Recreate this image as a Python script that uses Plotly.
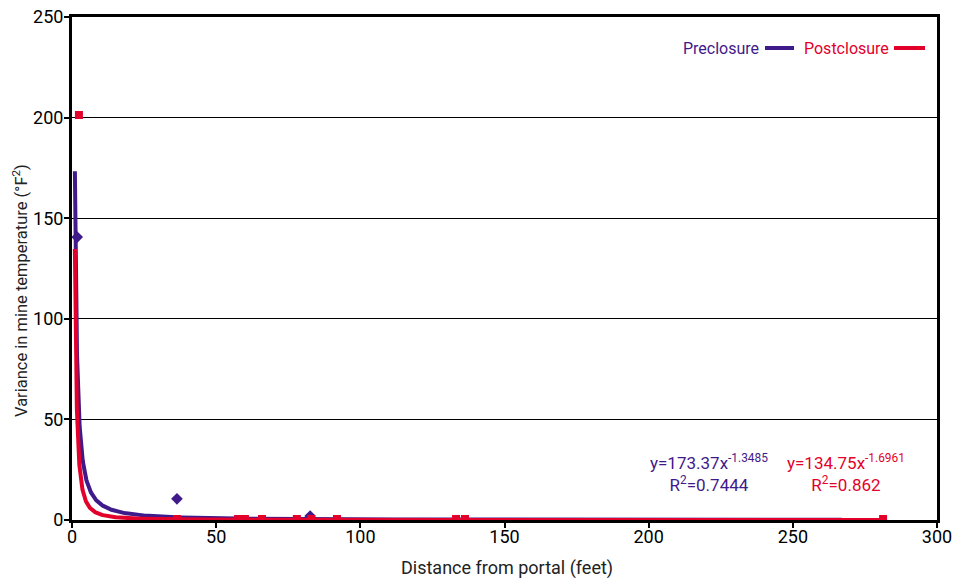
import plotly.graph_objects as go
import numpy as np

# ---- data ----
pre_x = [1.8, 36.4, 82.6]
pre_y = [140.6, 10.5, 2.0]
post_x = [2.4, 36.4, 57.6, 60.0, 65.9, 78.0, 82.9, 91.9, 133.2, 136.3, 281.3]
post_y = [201.3, 0.5, 0.5, 0.5, 0.5, 0.5, 0.5, 0.5, 0.5, 0.5, 0.5]

# power trend lines as labelled on the chart
pre_a, pre_b, pre_r2 = 173.37, -1.3485, 0.7444
post_a, post_b, post_r2 = 134.75, -1.6961, 0.862
pre_trend_range = (1.0, 267.0)
post_trend_range = (1.0, 281.3)

x_ticks = [0, 50, 100, 150, 200, 250, 300]
y_ticks = [0, 50, 100, 150, 200, 250]

PURPLE = "#3F1A8A"
RED = "#E3002B"
FONT = "Roboto"

W, H = 953, 581
PL, PR, PT, PB = 72, 937, 17, 520          # plot area in window pixels
PW, PH = PR - PL, PB - PT


def trend(a, b, rng):
    xs = np.geomspace(rng[0], rng[1], 400)
    return xs, a * xs ** b


def px(xw):
    return (xw - PL) / PW


def py(yw):
    return (PB - yw) / PH


fig = go.Figure()
tx, ty = trend(pre_a, pre_b, pre_trend_range)
fig.add_trace(go.Scatter(x=tx, y=ty, mode="lines", line=dict(color=PURPLE, width=4),
                         showlegend=False, hoverinfo="skip"))
fig.add_trace(go.Scatter(x=pre_x, y=pre_y, mode="markers", name="Preclosure",
                         marker=dict(symbol="diamond", size=9, color=PURPLE),
                         showlegend=False))
tx, ty = trend(post_a, post_b, post_trend_range)
fig.add_trace(go.Scatter(x=tx, y=ty, mode="lines", line=dict(color=RED, width=4),
                         showlegend=False, hoverinfo="skip"))
fig.add_trace(go.Scatter(x=post_x, y=post_y, mode="markers", name="Postclosure",
                         marker=dict(symbol="square", size=8, color=RED),
                         showlegend=False))

axis_common = dict(showline=True, linecolor="black", mirror=True, automargin=False,
                   ticks="outside", ticklen=5, tickwidth=2, tickcolor="black",
                   zeroline=False, tickfont=dict(family=FONT, size=18, color="black"))

fig.update_xaxes(range=[0, 300], tickvals=x_ticks, showgrid=False, linewidth=3,
                 ticklabelstandoff=-7, **axis_common)
fig.update_yaxes(range=[0, 250], tickvals=y_ticks, showgrid=True, gridcolor="black",
                 gridwidth=1, linewidth=3, ticklabelstandoff=-3, **axis_common)

# axis titles
fig.add_annotation(xref="paper", yref="paper", x=px(507), y=py(568),
                   xanchor="center", yanchor="middle", showarrow=False,
                   text="Distance from portal (feet)",
                   font=dict(family=FONT, size=18, color="#222"))
fig.add_annotation(xref="paper", yref="paper", x=px(20), y=py(291),
                   xanchor="center", yanchor="middle", showarrow=False, textangle=-90,
                   text="Variance in mine temperature (°F<sup>2</sup>)",
                   font=dict(family=FONT, size=16.5, color="#222"))

# legend drawn as text followed by line sample
leg_y = py(48)
fig.add_annotation(xref="paper", yref="paper", x=px(761), y=leg_y, xanchor="right", yanchor="middle",
                   text="Preclosure", showarrow=False, font=dict(family=FONT, size=16, color=PURPLE))
fig.add_shape(type="line", xref="paper", yref="paper", x0=px(765), x1=px(794), y0=leg_y, y1=leg_y,
              line=dict(color=PURPLE, width=4))
fig.add_annotation(xref="paper", yref="paper", x=px(802), y=leg_y, xanchor="left", yanchor="middle",
                   text="Postclosure", showarrow=False, font=dict(family=FONT, size=16, color=RED))
fig.add_shape(type="line", xref="paper", yref="paper", x0=px(894), x1=px(925), y0=leg_y, y1=leg_y,
              line=dict(color=RED, width=4))

# equations
fig.add_annotation(xref="paper", yref="paper", x=px(709), y=py(473), xanchor="center", yanchor="middle",
                   text=f"y={pre_a}x<sup>{pre_b}</sup><br>R<sup>2</sup>={pre_r2}", showarrow=False,
                   align="center", font=dict(family=FONT, size=17, color=PURPLE))
fig.add_annotation(xref="paper", yref="paper", x=px(846), y=py(473), xanchor="center", yanchor="middle",
                   text=f"y={post_a}x<sup>{post_b}</sup><br>R<sup>2</sup>={post_r2}", showarrow=False,
                   align="center", font=dict(family=FONT, size=17, color=RED))

fig.update_layout(width=W, height=H, paper_bgcolor="white", plot_bgcolor="white",
                  margin=dict(l=PL, r=W - PR, t=PT, b=H - PB),
                  showlegend=False, font=dict(family=FONT))
fig.write_html("out.html", config={"displayModeBar": False},
               post_script="document.body.style.margin='0';document.body.style.overflow='hidden';")
